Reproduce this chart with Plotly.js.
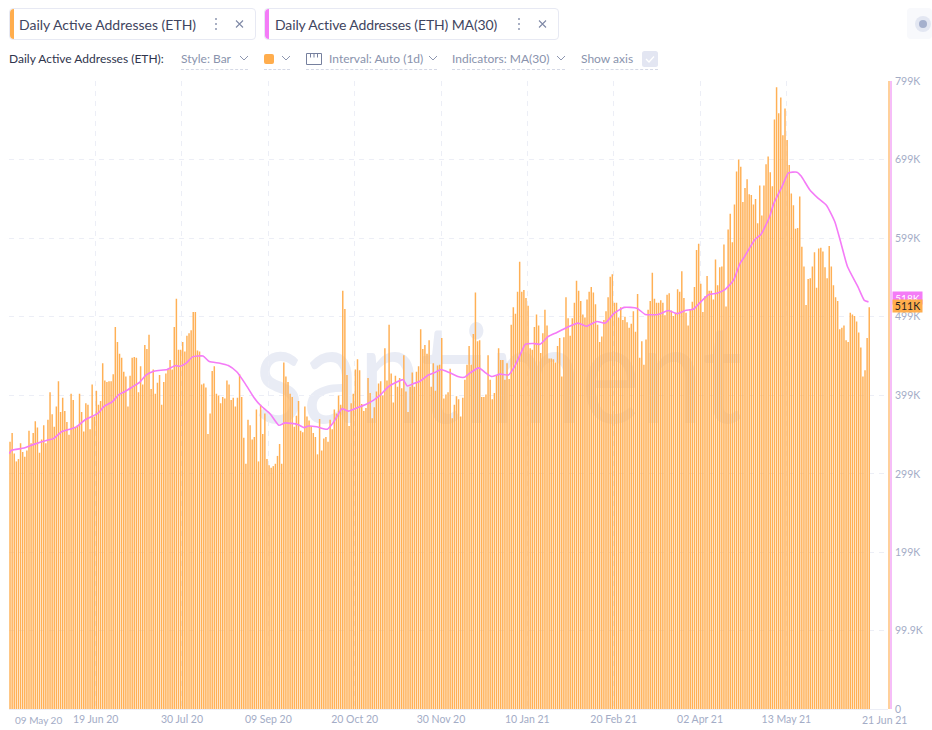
<!DOCTYPE html>
<html>
<head>
<meta charset="utf-8">
<script src="https://cdn.plot.ly/plotly-3.0.1.min.js"></script>
<style>
html,body{margin:0;padding:0;background:#fff;width:932px;height:730px;overflow:hidden;font-family:Lato,"Noto Sans",sans-serif}
#mark{position:absolute;left:255px;top:301px;font:400 138px/1 Lato,sans-serif;color:#e9ecf5;white-space:nowrap;transform:scaleX(0.81);transform-origin:left top}
#chart{position:absolute;left:0;top:0;width:932px;height:730px}
.ui{position:absolute;white-space:nowrap}
.tab{top:8px;height:30px;border:1px solid #e7e9f3;border-radius:4px;box-sizing:content-box;background:#fff}
.bar{position:absolute;left:0;top:0;bottom:0;width:4px;border-radius:4px 0 0 4px}
.tabtxt{top:15px;font-size:14px;line-height:19px;color:#3f4560}
.row{top:51px;font-size:12px;line-height:16px;color:#8a93ad}
.ul{top:69px;height:0;border-top:1px dashed #d5d9e6}
svg{position:absolute;overflow:visible}
</style>
</head>
<body>
<div id="mark">santiment</div>
<div id="chart"></div>

<div class="ui tab" style="left:9px;width:245px"><div class="bar" style="background:#ffad4d"></div></div>
<div class="ui tabtxt" style="left:19px">Daily Active Addresses (ETH)</div>
<div class="ui tab" style="left:264px;width:293px"><div class="bar" style="background:#f47bf7"></div></div>
<div class="ui tabtxt" style="left:275px;letter-spacing:-0.13px">Daily Active Addresses (ETH) MA(30)</div>
<svg width="932" height="730" style="left:0;top:0;pointer-events:none">
  <g fill="#8d96b0"><circle cx="216" cy="19" r="1"/><circle cx="216" cy="24" r="1"/><circle cx="216" cy="29" r="1"/>
  <circle cx="519" cy="19" r="1"/><circle cx="519" cy="24" r="1"/><circle cx="519" cy="29" r="1"/></g>
  <g stroke="#7f89a6" stroke-width="1.1" fill="none">
    <path d="M236 20.5l7 7M243 20.5l-7 7"/><path d="M539 20.5l7 7M546 20.5l-7 7"/>
  </g>
  <rect x="907" y="8" width="25" height="31" rx="4" fill="#f8f9fc"/>
  <circle cx="923" cy="24" r="8" fill="#e3e7f2"/><circle cx="923" cy="24" r="4" fill="#a5b0cd"/>
  <g stroke="#8d96b0" stroke-width="1" fill="none">
    <path d="M240 56l4 4 4-4"/><path d="M282 56l4 4 4-4"/><path d="M429 56l4 4 4-4"/><path d="M557 56l4 4 4-4"/>
    <path d="M306.5 53.5h15v11h-15zM310.5 53.5v4M314 53.5v4M317.5 53.5v4" stroke="#76809e"/>
  </g>
  <rect x="264" y="54" width="10" height="10" rx="2" fill="#ffad4d"/>
  <rect x="642" y="51" width="16" height="16" rx="2.5" fill="#e3e6f2"/>
  <path d="M646 59l3 3 5-5.500" stroke="#fff" stroke-width="1.300" fill="none"/>
</svg>
<div class="ui row" style="left:9px;color:#2f354d">Daily Active Addresses (ETH):</div>
<div class="ui row" style="left:181px">Style: Bar</div><div class="ui ul" style="left:181px;width:67px"></div>
<div class="ui ul" style="left:264px;width:26px"></div>
<div class="ui row" style="left:329px">Interval: Auto (1d)</div><div class="ui ul" style="left:306px;width:131px"></div>
<div class="ui row" style="left:452px">Indicators: MA(30)</div><div class="ui ul" style="left:452px;width:113px"></div>
<div class="ui row" style="left:581px">Show axis</div><div class="ui ul" style="left:581px;width:77px"></div>

<script>
// Daily active addresses, thousands, one value per day from startDate
const startDate = "2020-05-09";
const dailyAddressesK = [
340,351,325,315,318,338,327,321,329,354,338,351,366,358,326,343,361,338,368,403,375,359,385,417,378,396,379,365,349,401,
393,359,361,401,378,353,389,387,356,413,372,405,387,392,440,418,416,417,417,426,486,467,452,447,429,423,385,424,447,448,
447,403,436,413,463,458,476,407,432,401,415,425,387,416,427,433,444,432,486,522,457,457,467,455,475,478,482,505,505,456,
455,413,414,409,350,376,430,436,401,399,389,397,395,418,413,393,396,385,396,426,397,345,312,368,361,343,346,381,315,387,
350,376,318,310,307,309,312,322,337,312,441,423,416,401,397,359,373,392,354,352,385,372,367,359,351,346,324,369,329,344,
346,340,368,356,381,376,399,387,532,509,425,360,389,401,432,445,431,388,379,383,421,402,370,384,404,414,417,399,459,418,
489,427,390,424,410,421,408,450,404,378,410,428,410,429,436,483,458,463,452,469,410,440,405,437,438,472,395,400,403,433,
370,387,398,394,372,396,419,438,462,438,477,530,468,469,397,397,400,450,419,394,402,425,459,444,444,419,440,420,489,511,
503,531,569,531,533,523,513,459,457,486,502,488,453,478,508,488,446,446,445,441,462,472,423,473,524,497,475,497,517,545,
532,519,502,498,521,531,537,530,515,489,467,474,495,506,524,550,553,517,517,498,511,495,499,492,485,490,506,480,528,447,
468,438,470,508,519,555,522,517,517,520,517,501,527,529,507,500,504,534,531,557,523,504,488,509,518,537,584,592,541,505,
525,551,532,532,521,572,539,562,563,591,512,610,630,594,642,684,699,690,645,663,674,655,654,642,649,618,666,628,666,693,
703,683,665,750,791,758,778,730,764,724,692,656,641,611,612,652,588,563,514,547,548,563,581,536,586,587,582,562,548,589,
563,539,524,519,483,485,488,469,467,504,502,500,493,479,460,423,431,472,511
];
// MA(30) read at these day numbers (days after startDate)
const maDay = [0,1,7,12,18,21,25,30,32,36,42,45,49,52,55,58,62,65,69,75,79,81,84,87,92,95,100,104,108,112,116,119,124,128,131,137,140,142,146,151,154,158,161,165,169,173,176,180,184,187,189,192,195,199,202,205,209,213,216,219,223,226,229,233,237,240,243,245,249,252,256,260,266,270,274,279,283,287,292,298,302,308,313,317,321,325,328,332,336,340,344,347,349,354,357,361,363,367,370,374,376,380,384,388,392,395,398,403,406,408];
const maValueK = [325,329,332,337,342,344,353,357,359,368,376,385,391,400,404,409,416,425,430,432,437,436,440,448,449,442,440,437,429,414,397,387,375,361,364,362,358,360,359,356,365,382,379,383,387,393,399,410,416,419,411,414,417,425,428,432,428,423,422,428,434,428,423,426,425,436,453,464,465,464,474,479,487,491,487,493,491,503,511,510,502,502,507,503,507,509,517,527,529,534,546,567,575,597,604,626,643,665,682,683,678,661,650,641,620,592,563,537,520,518];

const gridDates = ["2020-05-09","2020-06-19","2020-07-30","2020-09-09","2020-10-20","2020-11-30","2021-01-10","2021-02-20","2021-04-02","2021-05-13"];
const gridLabels = ["","19 Jun 20","30 Jul 20","09 Sep 20","20 Oct 20","30 Nov 20","10 Jan 21","20 Feb 21","02 Apr 21","13 May 21"];
const firstLabel = "09 May 20";
const lastLabel = "21 Jun 21";
const yTicksK = [0,99.9,199,299,399,499,599,699,799];
const yLabels = ["0","99.9K","199K","299K","399K","499K","599K","699K","799K"];
const lastMaLabel = "518K", lastMaK = 518;
const lastBarLabel = "511K", lastBarK = 511;

const DAY = 86400000;
const t0 = Date.parse(startDate + "T00:00:00Z");
const dateOf = n => new Date(t0 + n * DAY).toISOString().slice(0, 19).replace("T", " ");
const barDates = dailyAddressesK.map((_, i) => dateOf(i));
const maDates = maDay.map(dateOf);

const grey = "#a3acc6", gridc = "#eceef6";
const traces = [
  {type:"bar", x:barDates, y:dailyAddressesK, width:0.7*DAY, offset:0,
   marker:{color:"#ffb055", line:{width:0}}, hoverinfo:"skip", name:"Daily Active Addresses (ETH)"},
  {type:"scatter", mode:"lines", x:maDates, y:maValueK,
   line:{color:"#f47bf7", width:1.6, shape:"spline", smoothing:0.5}, hoverinfo:"skip", name:"Daily Active Addresses (ETH) MA(30)"}
];
const layout = {
  width:932, height:730, showlegend:false,
  paper_bgcolor:"rgba(0,0,0,0)", plot_bgcolor:"rgba(0,0,0,0)",
  margin:{l:9, r:44, t:81, b:21, pad:0},
  font:{family:"Lato, sans-serif", size:10.5, color:grey},
  xaxis:{type:"date", range:[dateOf(-0.14), dateOf(417.26)], tickmode:"array", tickvals:gridDates, ticktext:gridLabels,
    showgrid:true, gridcolor:gridc, griddash:"5px,5px", gridwidth:1, showline:true, linecolor:gridc, linewidth:1,
    ticks:"", tickangle:0, tickfont:{size:10.5, color:grey}, zeroline:false},
  yaxis:{side:"right", range:[0,799], tickmode:"array", tickvals:yTicksK, ticktext:yLabels,
    showgrid:true, gridcolor:gridc, griddash:"5px,5px", gridwidth:1, showline:false, zeroline:false,
    ticks:"", ticklabelstandoff:6, tickfont:{size:10.5, color:grey}},
  shapes:[
    {type:"rect", xref:"paper", yref:"paper", xsizemode:"pixel", xanchor:1, x0:0, x1:2, y0:0, y1:1, fillcolor:"#ffd09b", line:{width:0}},
    {type:"rect", xref:"paper", yref:"paper", xsizemode:"pixel", xanchor:1, x0:2, x1:4, y0:0, y1:1, fillcolor:"#f6bdf8", line:{width:0}}
  ],
  annotations:[
    {xref:"paper", yref:"paper", x:4/879, y:0, xanchor:"left", yanchor:"top", yshift:-3, showarrow:false, text:firstLabel, font:{size:10, color:grey}},
    {xref:"paper", yref:"paper", x:851/879, y:0, xanchor:"left", yanchor:"top", yshift:-3, showarrow:false, text:lastLabel, font:{size:10.5, color:grey}},
    {xref:"paper", yref:"y", x:1, xshift:4, y:lastMaK, yshift:4, xanchor:"left", yanchor:"middle", showarrow:false, text:lastMaLabel,
     font:{size:10, color:"#ffffff"}, bgcolor:"#f47bf7", width:29, height:12, borderpad:0},
    {xref:"paper", yref:"y", x:1, xshift:4, y:lastBarK, yshift:1, xanchor:"left", yanchor:"middle", showarrow:false, text:lastBarLabel,
     font:{size:10.5, color:"#1f1f1f"}, bgcolor:"#ffad4d", width:29, height:12, borderpad:0}
  ]
};
Plotly.newPlot("chart", traces, layout, {staticPlot:true, displayModeBar:false});
</script>
</body>
</html>
